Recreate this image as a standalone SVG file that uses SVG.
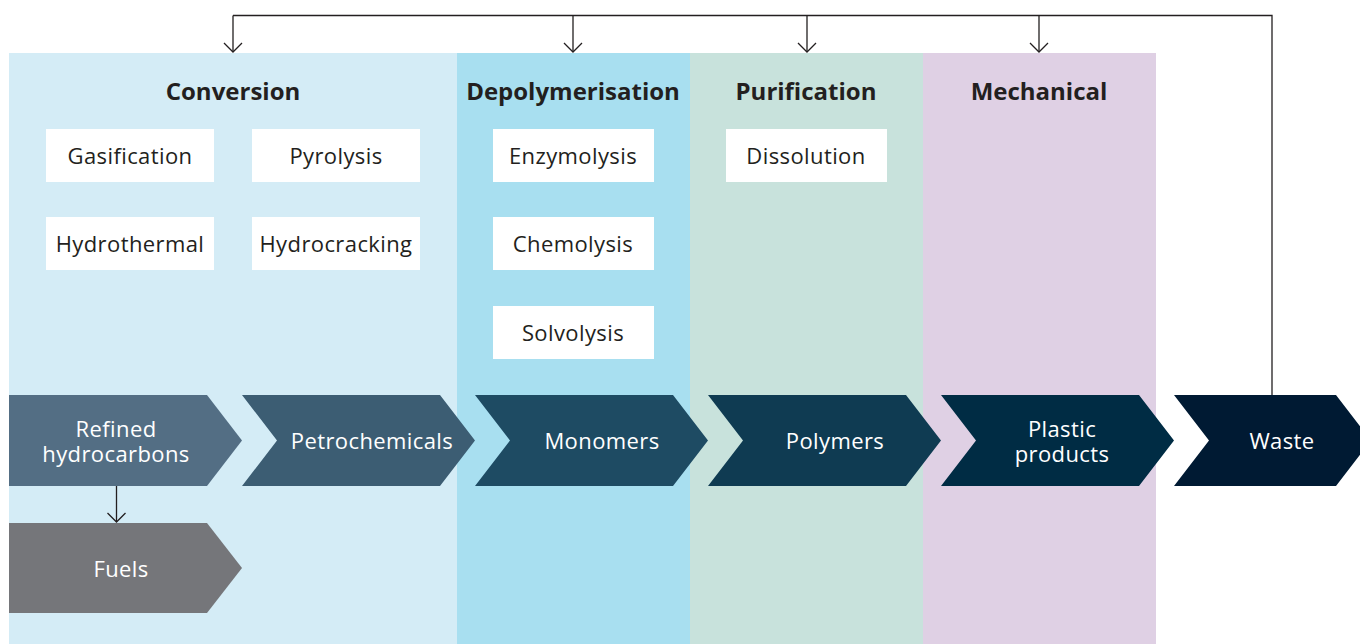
<svg xmlns="http://www.w3.org/2000/svg" width="1360" height="644" viewBox="0 0 1360 644">
  <defs>
    <!-- open V arrowhead, drawn pointing along +x so orient="auto" turns it with the line -->
    <marker id="arr" viewBox="-1 -1 12 20" refX="9" refY="9" markerWidth="12" markerHeight="20" markerUnits="userSpaceOnUse" orient="auto">
      <path d="M0,0 L9,9 L0,18" fill="none" stroke="#231f20" stroke-width="1.3"/>
    </marker>
    <style>
      .title { font-family: "Open Sans", "Liberation Sans", sans-serif; font-weight: 700; font-size: 24px; fill: #231f20; text-anchor: middle; }
      .box { fill: #ffffff; }
      .btxt { font-family: "Open Sans", "Liberation Sans", sans-serif; font-size: 22px; letter-spacing: 0.4px; fill: #231f20; text-anchor: middle; }
      .ctxt { font-family: "Open Sans", "Liberation Sans", sans-serif; font-size: 22px; letter-spacing: 0.4px; fill: #ffffff; text-anchor: middle; }
      .conn { fill: none; stroke: #231f20; stroke-width: 1.3; }
    </style>
  </defs>

  <rect width="1360" height="644" fill="#ffffff"/>

  <!-- stage panels -->
  <g id="panel-conversion">
    <rect x="9" y="53" width="448" height="591" fill="#d4ecf6"/>
    <text class="title" x="233" y="100">Conversion</text>
  </g>
  <g id="panel-depolymerisation">
    <rect x="457" y="53" width="233" height="591" fill="#a8dff0"/>
    <text class="title" x="573" y="100">Depolymerisation</text>
  </g>
  <g id="panel-purification">
    <rect x="690" y="53" width="233" height="591" fill="#c8e2dc"/>
    <text class="title" x="806" y="100">Purification</text>
  </g>
  <g id="panel-mechanical">
    <rect x="923" y="53" width="233" height="591" fill="#dfd0e4"/>
    <text class="title" x="1039" y="100">Mechanical</text>
  </g>

  <!-- process boxes -->
  <g id="gasification"><rect class="box" x="46" y="129" width="168" height="53"/><text class="btxt" x="130" y="164">Gasification</text></g>
  <g id="pyrolysis"><rect class="box" x="252" y="129" width="168" height="53"/><text class="btxt" x="336" y="164">Pyrolysis</text></g>
  <g id="hydrothermal"><rect class="box" x="46" y="217" width="168" height="53"/><text class="btxt" x="130" y="252">Hydrothermal</text></g>
  <g id="hydrocracking"><rect class="box" x="252" y="217" width="168" height="53"/><text class="btxt" x="336" y="252">Hydrocracking</text></g>
  <g id="enzymolysis"><rect class="box" x="493" y="129" width="161" height="53"/><text class="btxt" x="573" y="164">Enzymolysis</text></g>
  <g id="chemolysis"><rect class="box" x="493" y="217" width="161" height="53"/><text class="btxt" x="573" y="252">Chemolysis</text></g>
  <g id="solvolysis"><rect class="box" x="493" y="306" width="161" height="53"/><text class="btxt" x="573" y="341">Solvolysis</text></g>
  <g id="dissolution"><rect class="box" x="726" y="129" width="161" height="53"/><text class="btxt" x="806" y="164">Dissolution</text></g>

  <!-- value chain chevrons -->
  <g id="refined-hydrocarbons">
    <path d="M9,395 H207 L242,440.5 L207,486 H9 Z" fill="#536e84"/>
    <text class="ctxt" x="116" y="437">Refined</text>
    <text class="ctxt" x="116" y="462">hydrocarbons</text>
  </g>
  <g id="petrochemicals">
    <path d="M242,395 H440 L475,440.5 L440,486 H242 L277,440.5 Z" fill="#3c5d73"/>
    <text class="ctxt" x="372" y="449">Petrochemicals</text>
  </g>
  <g id="monomers">
    <path d="M475,395 H673 L708,440.5 L673,486 H475 L510,440.5 Z" fill="#1e4b63"/>
    <text class="ctxt" x="602" y="449">Monomers</text>
  </g>
  <g id="polymers">
    <path d="M708,395 H906 L941,440.5 L906,486 H708 L743,440.5 Z" fill="#0f3b52"/>
    <text class="ctxt" x="835" y="449">Polymers</text>
  </g>
  <g id="plastic-products">
    <path d="M941,395 H1139 L1174,440.5 L1139,486 H941 L976,440.5 Z" fill="#002c44"/>
    <text class="ctxt" x="1062" y="437">Plastic</text>
    <text class="ctxt" x="1062" y="462">products</text>
  </g>
  <g id="waste">
    <path d="M1174,395 H1336 L1371,440.5 L1336,486 H1174 L1209,440.5 Z" fill="#001a33"/>
    <text class="ctxt" x="1282" y="449">Waste</text>
  </g>
  <g id="fuels">
    <path d="M9,523 H207 L242,568 L207,613 H9 Z" fill="#75767a"/>
    <text class="ctxt" x="121" y="577">Fuels</text>
  </g>

  <!-- connectors -->
  <g id="connectors">
    <path class="conn" d="M1272,395 V15.5 H233"/>
    <path class="conn" d="M233,15.5 V52" marker-end="url(#arr)"/>
    <path class="conn" d="M573,15.5 V52" marker-end="url(#arr)"/>
    <path class="conn" d="M807,15.5 V52" marker-end="url(#arr)"/>
    <path class="conn" d="M1039,15.5 V52" marker-end="url(#arr)"/>
    <path class="conn" d="M116.5,486 V522" marker-end="url(#arr)"/>
  </g>
</svg>
